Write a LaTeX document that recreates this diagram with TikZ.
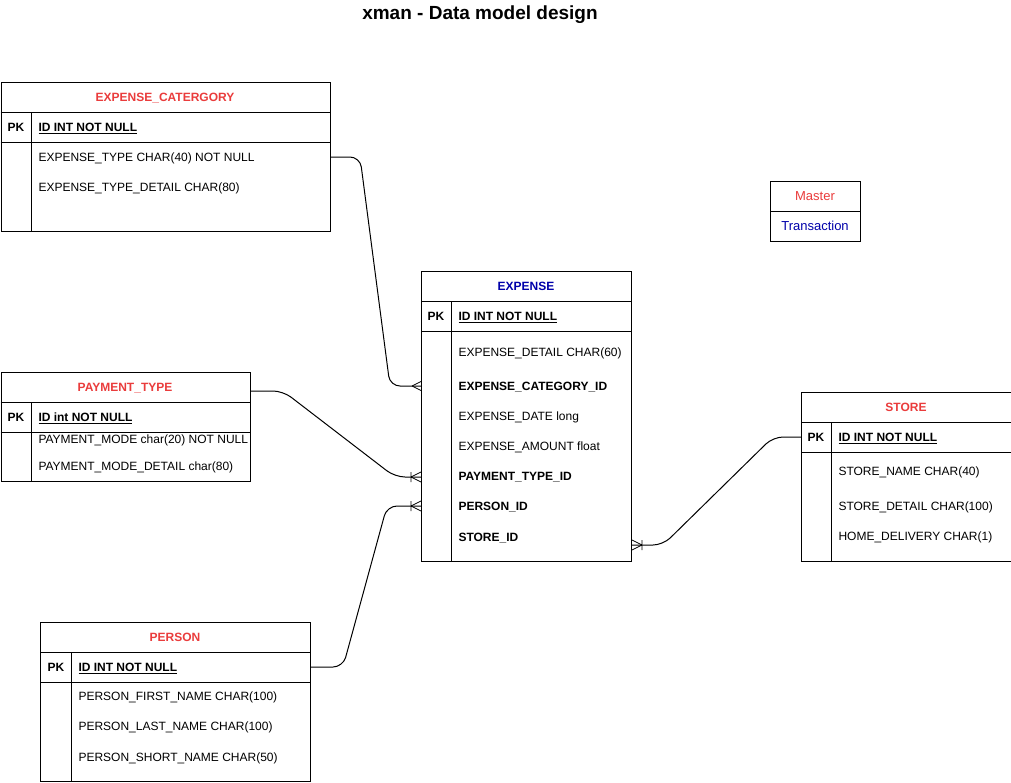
\documentclass[tikz,border=0pt]{standalone}
\usepackage{fontspec}
\setmainfont{Liberation Sans}
\usetikzlibrary{decorations.markings}
\definecolor{mred}{RGB}{234,60,60}
\definecolor{tblue}{RGB}{0,0,170}
\begin{document}
\begin{tikzpicture}[x=1pt,y=-1pt,line width=1pt,
  txt/.style={anchor=west,inner sep=0pt,text height=8.6pt,text depth=0pt,font=\fontsize{12}{14}\selectfont},
  boldtxt/.style={txt,font=\fontsize{12}{14}\selectfont\bfseries},
  ctxt/.style={anchor=center,inner sep=0pt,text height=8.6pt,text depth=0pt,font=\fontsize{12}{14}\selectfont},
  lgtxt/.style={anchor=center,inner sep=0pt,text height=9.3pt,text depth=0pt,font=\fontsize{13}{15}\selectfont},
  hdr/.style={ctxt,font=\fontsize{12}{14}\selectfont\bfseries},
  tbox/.style={draw,anchor=north west,inner sep=0pt,minimum width=#1},
  conn/.style={draw,rounded corners=10pt},
  ermany/.style={postaction={decorate,decoration={markings,mark=at position 1 with {
     \draw[line width=0.8pt] (-9pt,0pt) -- (0pt,4.5pt) (-9pt,0pt) -- (0pt,-4.5pt);}}}},
  eronemany/.style={postaction={decorate,decoration={markings,mark=at position 1 with {
     \draw[line width=0.8pt] (-10pt,0pt) -- (0pt,5pt) (-10pt,0pt) -- (0pt,-5pt) (-10pt,-5pt) -- (-10pt,5pt);}}}}
]
\useasboundingbox (0,0) rectangle (1011,782);
\fill[white] (0,0) rectangle (1011,782);

% title
\node[inner sep=0pt,text height=13.6pt,text depth=0pt,font=\fontsize{19}{22}\selectfont\bfseries] (title) at (480,13) {xman - Data model design};

% EXPENSE_CATERGORY
\node[tbox=329.5pt,minimum height=149pt] (ecbox) at (0.5,82) {};
\draw (0.5,112) -- (330,112) (0.5,142) -- (330,142) (31,112) -- (31,231);
\node[hdr,text=mred] (echdr) at (165,97) {EXPENSE\_CATERGORY};
\node[hdr] (ecpkl) at (16,127) {PK};
\node[boldtxt] (ecpk) at (38,127) {\underline{ID INT NOT NULL}};
\node[txt] (ecr1) at (38,157) {EXPENSE\_TYPE CHAR(40) NOT NULL};
\node[txt] (ecr2) at (38,187) {EXPENSE\_TYPE\_DETAIL CHAR(80)};

% PAYMENT_TYPE
\node[tbox=249.5pt,minimum height=109pt] (ptbox) at (0.5,372) {};
\draw (0.5,402) -- (250,402) (0.5,432) -- (250,432) (31,402) -- (31,481);
\node[hdr,text=mred] (pthdr) at (125,387) {PAYMENT\_TYPE};
\node[hdr] (ptpkl) at (16,417) {PK};
\node[boldtxt] (ptpk) at (38,417) {\underline{ID int NOT NULL}};
\node[txt] (ptr1) at (38,439) {PAYMENT\_MODE char(20) NOT NULL};
\node[txt] (ptr2) at (38,466) {PAYMENT\_MODE\_DETAIL char(80)};

% EXPENSE
\node[tbox=210pt,minimum height=290pt] (exbox) at (421,271) {};
\draw (421,301) -- (631,301) (421,331) -- (631,331) (451,301) -- (451,561);
\node[hdr,text=tblue] (exhdr) at (526,286) {EXPENSE};
\node[hdr] (expkl) at (436,316) {PK};
\node[boldtxt] (expk) at (458,316) {\underline{ID INT NOT NULL}};
\node[txt] (exdet) at (458,352) {EXPENSE\_DETAIL CHAR(60)};
\node[boldtxt] (excat) at (458,386) {EXPENSE\_CATEGORY\_ID};
\node[txt] (exdate) at (458,416) {EXPENSE\_DATE long};
\node[txt] (examt) at (458,446) {EXPENSE\_AMOUNT float};
\node[boldtxt] (expt) at (458,476) {PAYMENT\_TYPE\_ID};
\node[boldtxt] (experson) at (458,506) {PERSON\_ID};
\node[boldtxt] (exstore) at (458,537) {STORE\_ID};

% STORE
\node[tbox=209.5pt,minimum height=169pt] (stbox) at (801,392) {};
\draw (801,422) -- (1010.5,422) (801,452) -- (1010.5,452) (831,422) -- (831,561);
\node[hdr,text=mred] (sthdr) at (906,407) {STORE};
\node[hdr] (stpkl) at (816,437) {PK};
\node[boldtxt] (stpk) at (838,437) {\underline{ID INT NOT NULL}};
\node[txt] (str1) at (838,471) {STORE\_NAME CHAR(40)};
\node[txt] (str2) at (838,506) {STORE\_DETAIL CHAR(100)};
\node[txt] (str3) at (838,536) {HOME\_DELIVERY CHAR(1)};

% PERSON
\node[tbox=270pt,minimum height=159pt] (pebox) at (40,622) {};
\draw (40,652) -- (310,652) (40,682) -- (310,682) (71,652) -- (71,781);
\node[hdr,text=mred] (pehdr) at (175,637) {PERSON};
\node[hdr] (pepkl) at (56,667) {PK};
\node[boldtxt] (pepk) at (78,667) {\underline{ID INT NOT NULL}};
\node[txt] (per1) at (78,696) {PERSON\_FIRST\_NAME CHAR(100)};
\node[txt] (per2) at (78,726) {PERSON\_LAST\_NAME CHAR(100)};
\node[txt] (per3) at (78,757) {PERSON\_SHORT\_NAME CHAR(50)};

% legend
\node[tbox=90pt,minimum height=60pt] (lgbox) at (770,181) {};
\draw (770,211) -- (860,211);
\node[lgtxt,text=mred] (lgm) at (815,196) {Master};
\node[lgtxt,text=tblue] (lgt) at (815,226) {Transaction};

% connectors
\draw[conn,ermany] (ecbox.east |- ecr1) -- (360,157) -- (390,386) -- (exbox.west |- excat);
\draw[conn,eronemany] (ptbox.east |- 0,391) -- (283,391) -- (395,477) -- (exbox.west |- 0,477);
\draw[conn,eronemany] (pebox.east |- pepk) -- (343,667) -- (387,506) -- (exbox.west |- experson);
\draw[conn,eronemany] (stbox.west |- stpk) -- (773,437) -- (663,545) -- (exbox.east |- 0,545);
\end{tikzpicture}
\end{document}
